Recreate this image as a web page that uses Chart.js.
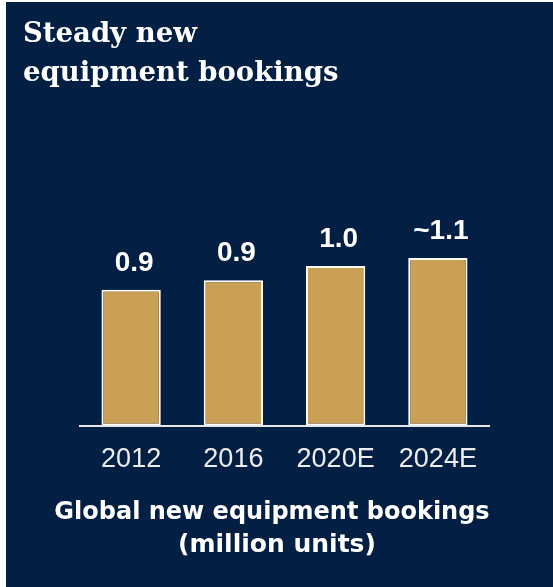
<!DOCTYPE html>
<html>
<head>
<meta charset="utf-8">
<script src="https://cdn.jsdelivr.net/npm/chart.js@4/dist/chart.umd.min.js"></script>
<style>
    html, body { margin: 0; padding: 0; background: #ffffff; }
    #panel {
        position: absolute;
        left: 6px;
        top: 2px;
        width: 547px;
        height: 585px;
        background: #041f44;
    }
</style>
</head>
<body>
<div id="panel"><canvas id="bookingsChart"></canvas></div>
<script>
// Datos del gráfico
const years = ['2012', '2016', '2020E', '2024E'];
const bookings = [0.85, 0.91, 1.0, 1.05];
const valueLabels = ['0.9', '0.9', '1.0', '~1.1'];
const titleLines = ['Steady new', 'equipment bookings'];
const footerLines = ['Global new equipment bookings', '(million units)'];

const colors = {
    bar: '#c9a055',
    barBorder: '#ffffff',
    text: '#ffffff',
    tick: '#eeeeee',
    baseline: '#e6e6e6'
};

// Etiquetas de valor encima de cada barra
const valueLabelPlugin = {
    id: 'valueLabels',
    afterDatasetsDraw(chart) {
        const ctx = chart.ctx;
        const meta = chart.getDatasetMeta(0);
        ctx.save();
        ctx.fillStyle = colors.text;
        ctx.font = 'bold 28px "Liberation Sans", Arial, sans-serif';
        ctx.textAlign = 'center';
        ctx.textBaseline = 'alphabetic';
        meta.data.forEach((bar, i) => {
            ctx.fillText(valueLabels[i], bar.x + 3, bar.y - 19);
        });
        ctx.restore();
    }
};

// Pie del gráfico (sin recorte de ancho, a diferencia del título del eje)
const footerPlugin = {
    id: 'footer',
    afterDraw(chart) {
        const ctx = chart.ctx;
        ctx.save();
        ctx.fillStyle = colors.text;
        ctx.textAlign = 'center';
        ctx.textBaseline = 'middle';
        ctx.font = 'bold 24px "DejaVu Sans", sans-serif';
        ctx.fillText(footerLines[0], 266, 511);
        ctx.font = 'bold 25px "DejaVu Sans", sans-serif';
        ctx.fillText(footerLines[1], 271, 543);
        ctx.restore();
    }
};

const ctx = document.getElementById('bookingsChart');
new Chart(ctx, {
    type: 'bar',
    data: {
        labels: years,
        datasets: [{
            data: bookings,
            backgroundColor: colors.bar,
            borderColor: colors.barBorder,
            borderWidth: 2,
            borderSkipped: false,
            categoryPercentage: 1,
            barPercentage: 0.58
        }]
    },
    options: {
        responsive: true,
        maintainAspectRatio: false,
        animation: false,
        layout: {
            padding: { left: 17, right: 64, top: 0, bottom: 93 }
        },
        plugins: {
            legend: { display: false },
            tooltip: { enabled: false },
            title: {
                display: true,
                text: titleLines,
                align: 'start',
                color: colors.text,
                font: {
                    family: '"DejaVu Serif", Georgia, serif',
                    size: 27.5,
                    weight: 'bold',
                    lineHeight: 1.42
                },
                padding: { top: 13, bottom: 22 }
            }
        },
        scales: {
            x: {
                grid: { display: false, drawTicks: false },
                border: { display: true, color: colors.baseline, width: 2 },
                ticks: {
                    color: colors.tick,
                    padding: 18,
                    font: {
                        family: '"Liberation Sans", Arial, sans-serif',
                        size: 27,
                        lineHeight: 1.2
                    }
                }
            },
            y: {
                min: 0,
                max: 1.944,
                grid: { display: false, drawTicks: false },
                border: { display: false },
                ticks: { display: false },
                afterFit(scale) {
                    scale.width = 57;
                }
            }
        }
    },
    plugins: [valueLabelPlugin, footerPlugin]
});
</script>
</body>
</html>
